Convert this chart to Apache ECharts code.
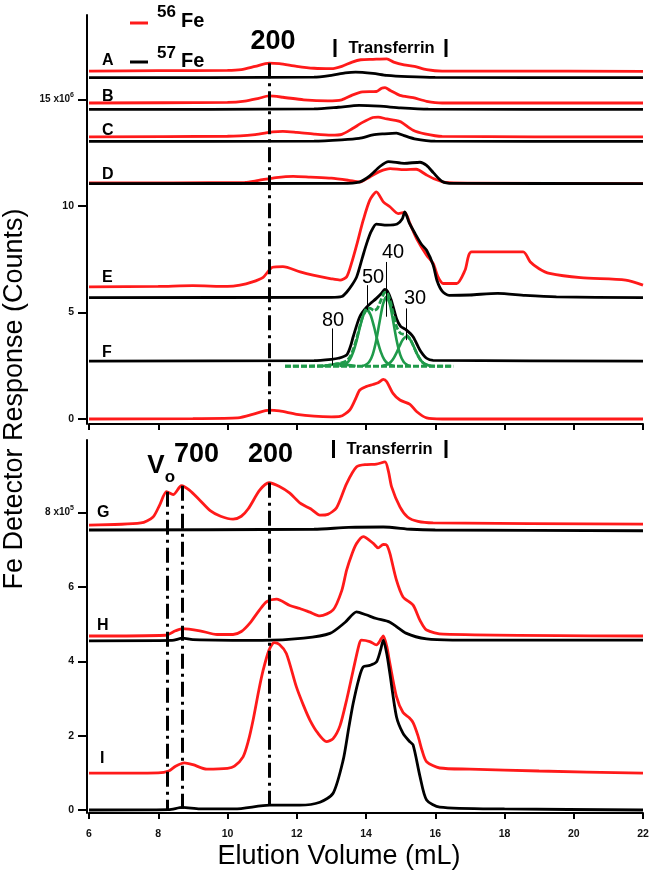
<!DOCTYPE html>
<html><head><meta charset="utf-8">
<script src="https://cdn.jsdelivr.net/npm/echarts@6.0.0/dist/echarts.min.js"></script>
<style>html,body{margin:0;padding:0;background:#fff}#c{width:653px;height:876px}</style>
</head><body><div id="c"></div>
<script>
// ---------- DATA (elution volume mL, response) ----------
// Top panel (x10^6 counts)
const A56 = [[6,16.33],[8,16.35],[10,16.36],[10.4,16.40],[10.8,16.55],[11.2,16.70],[11.5,16.68],[12,16.55],[12.5,16.46],[13,16.44],[13.3,16.55],[13.6,16.75],[13.85,16.86],[14.2,16.88],[14.6,16.90],[14.8,16.75],[15.1,16.62],[15.4,16.55],[15.75,16.40],[16.2,16.33],[18,16.33],[22,16.31]];
const A57 = [[6,16.02],[12.5,16.04],[13.0,16.13],[13.4,16.24],[13.7,16.28],[14.2,16.22],[14.6,16.13],[15.2,16.07],[16,16.03],[22,16.02]];
const B56 = [[6,14.83],[10,14.86],[10.5,14.92],[10.9,15.05],[11.2,15.16],[11.6,15.10],[12.2,14.98],[12.9,14.93],[13.3,14.98],[13.6,15.20],[13.9,15.35],[14.3,15.37],[14.45,15.52],[14.55,15.55],[14.7,15.42],[14.98,15.19],[15.36,15.08],[15.75,14.91],[16.2,14.83],[22,14.83]];
const B57 = [[6,14.53],[12.5,14.55],[13.2,14.63],[13.8,14.72],[14.4,14.68],[15,14.60],[15.8,14.54],[22,14.53]];
const C56 = [[6,13.24],[10,13.27],[10.8,13.35],[11.3,13.47],[11.6,13.50],[12.0,13.45],[12.5,13.37],[13.0,13.32],[13.3,13.36],[13.6,13.62],[13.9,13.92],[14.2,14.15],[14.35,14.17],[14.6,14.08],[14.85,14.02],[15.0,13.95],[15.36,13.55],[15.7,13.38],[16.2,13.26],[22,13.24]];
const C57 = [[6,13.03],[12.5,13.04],[13.3,13.10],[13.8,13.17],[14.2,13.33],[14.5,13.38],[14.88,13.42],[15.1,13.30],[15.4,13.15],[16,13.04],[22,13.03]];
const D56 = [[6,11.08],[10.5,11.10],[10.9,11.20],[11.4,11.33],[11.9,11.39],[12.4,11.35],[13.0,11.30],[13.5,11.20],[13.82,11.12],[14.1,11.35],[14.4,11.62],[14.7,11.75],[15.1,11.70],[15.45,11.72],[15.75,11.45],[16.0,11.25],[16.3,11.10],[17,11.07],[22,11.05]];
const D57 = [[6,11.05],[13.3,11.06],[13.8,11.12],[14.1,11.40],[14.4,11.85],[14.65,12.08],[15.1,12.00],[15.56,12.05],[15.75,11.90],[15.95,11.55],[16.2,11.15],[16.5,11.06],[22,11.05]];
const E56 = [[6,6.20],[8,6.22],[9,6.26],[10,6.22],[10.36,6.28],[10.7,6.42],[11.03,6.65],[11.3,7.12],[11.6,7.15],[12.1,6.90],[12.47,6.75],[13.0,6.58],[13.25,6.52],[13.44,6.67],[13.58,7.30],[13.73,8.16],[13.92,9.33],[14.11,10.27],[14.3,10.66],[14.5,10.19],[14.69,9.96],[14.93,9.64],[15.12,9.69],[15.27,9.17],[15.46,8.47],[15.75,7.69],[15.94,7.30],[16.08,6.67],[16.23,6.36],[16.62,6.36],[16.86,6.98],[17.05,7.84],[18.54,7.84],[18.74,7.38],[19.0,7.05],[19.3,6.83],[20.2,6.63],[21.5,6.52],[22,6.28]];
const E57 = [[6,5.70],[13.0,5.71],[13.3,5.75],[13.44,5.95],[13.6,6.30],[13.73,6.67],[13.9,7.60],[14.02,8.24],[14.15,8.80],[14.3,9.15],[14.6,9.10],[14.9,9.15],[15.05,9.40],[15.12,9.72],[15.25,9.20],[15.4,8.75],[15.6,8.20],[15.75,7.92],[15.94,7.22],[16.05,6.50],[16.2,6.00],[16.4,5.80],[17,5.82],[17.8,5.90],[18.6,5.80],[19.5,5.73],[22,5.70]];
const F57 = [[6,2.72],[12.5,2.74],[13.0,2.80],[13.2,2.85],[13.44,3.00],[13.55,3.40],[13.63,3.86],[13.82,4.80],[14.03,5.27],[14.3,5.66],[14.45,5.90],[14.54,6.08],[14.62,6.00],[14.73,5.58],[14.88,4.72],[15.0,4.35],[15.17,4.17],[15.36,3.86],[15.56,3.23],[15.75,2.85],[15.94,2.75],[22,2.72]];
const F56 = [[6,0.0],[9,0.02],[10.3,0.05],[10.8,0.25],[11.2,0.42],[11.5,0.38],[12.0,0.22],[12.5,0.13],[13.0,0.10],[13.25,0.12],[13.53,0.42],[13.7,0.95],[13.82,1.36],[14.0,1.52],[14.2,1.62],[14.35,1.70],[14.5,1.86],[14.6,1.75],[14.78,1.20],[14.98,0.89],[15.27,0.69],[15.46,0.35],[15.75,0.05],[16.2,0.0],[22,0.0]];
// Peak fit components for F (green)
const fitBase = [[11.66,2.48],[16.52,2.48]];
const fit80 = [[12.75,2.49],[13.0,2.54],[13.2,2.60],[13.45,2.54],[13.7,2.49]];
const fit50 = [[13.23,2.49],[13.33,2.52],[13.43,2.60],[13.53,2.78],[13.63,3.14],[13.73,3.68],[13.83,4.34],[13.93,4.89],[14.03,5.11],[14.13,4.89],[14.23,4.34],[14.33,3.68],[14.43,3.14],[14.53,2.78],[14.63,2.60],[14.73,2.52],[14.83,2.49]];
const fit40 = [[13.89,2.49],[13.99,2.54],[14.09,2.67],[14.19,3.01],[14.29,3.65],[14.39,4.54],[14.49,5.38],[14.59,5.73],[14.69,5.38],[14.79,4.54],[14.89,3.65],[14.99,3.01],[15.09,2.67],[15.19,2.54],[15.29,2.49]];
const fit30 = [[14.47,2.49],[14.57,2.53],[14.67,2.61],[14.77,2.78],[14.87,3.07],[14.97,3.43],[15.07,3.74],[15.17,3.86],[15.27,3.74],[15.37,3.43],[15.47,3.07],[15.57,2.78],[15.67,2.61],[15.77,2.53],[15.87,2.49]];
const fitSum = [[11.66,2.48],[12.8,2.50],[13.2,2.60],[13.43,2.72],[13.53,2.90],[13.63,3.26],[13.73,3.78],[13.83,4.41],[13.93,4.91],[14.03,5.20],[14.13,5.19],[14.23,5.09],[14.33,5.19],[14.43,5.57],[14.53,5.93],[14.59,5.96],[14.69,5.60],[14.79,4.91],[14.89,4.31],[14.99,4.03],[15.07,3.98],[15.17,3.93],[15.27,3.76],[15.37,3.43],[15.47,3.07],[15.57,2.78],[15.67,2.61],[15.87,2.49],[16.52,2.48]];
// Bottom panel (x10^5 counts)
const G56 = [[6,7.66],[7.5,7.72],[7.85,7.88],[8.04,8.20],[8.24,8.56],[8.43,8.48],[8.67,8.72],[8.9,8.60],[9.2,8.33],[9.5,8.05],[9.8,7.90],[10.16,7.82],[10.4,7.90],[10.6,8.10],[10.93,8.60],[11.2,8.80],[11.5,8.70],[11.8,8.52],[12.1,8.25],[12.4,8.10],[12.67,7.93],[12.9,7.95],[13.15,8.13],[13.44,8.78],[13.73,9.23],[14.02,9.29],[14.3,9.30],[14.55,9.36],[14.65,9.10],[14.74,8.69],[14.98,8.15],[15.2,7.88],[15.5,7.76],[15.94,7.72],[22,7.69]];
const G57 = [[6,7.53],[12.5,7.55],[13.5,7.60],[14.5,7.61],[15.3,7.55],[16,7.53],[22,7.51]];
const H56 = [[6,4.68],[8.2,4.70],[8.5,4.82],[8.7,4.88],[9.2,4.82],[9.7,4.72],[10.16,4.72],[10.4,4.80],[10.64,5.02],[10.9,5.35],[11.13,5.60],[11.42,5.67],[11.8,5.50],[12.09,5.42],[12.38,5.32],[12.67,5.22],[13.05,5.38],[13.3,5.90],[13.44,6.45],[13.6,6.90],[13.73,7.17],[13.92,7.35],[14.21,7.17],[14.35,7.05],[14.5,7.14],[14.6,7.12],[14.69,6.90],[14.88,6.18],[15.07,5.73],[15.36,5.51],[15.56,5.10],[15.75,4.84],[16.23,4.73],[22,4.68]];
const H57 = [[6,4.55],[8.4,4.56],[8.7,4.62],[9.0,4.58],[11,4.56],[12.2,4.62],[12.96,4.75],[13.4,5.05],[13.73,5.33],[14.0,5.25],[14.3,5.15],[14.69,5.05],[15.17,4.75],[15.75,4.60],[16.5,4.57],[22,4.57]];
const I56 = [[6,0.99],[8.0,1.0],[8.3,1.05],[8.5,1.18],[8.75,1.27],[9.0,1.22],[9.4,1.10],[10.0,1.12],[10.2,1.18],[10.45,1.43],[10.6,1.85],[10.74,2.42],[10.9,3.20],[11.03,3.76],[11.2,4.30],[11.35,4.50],[11.5,4.45],[11.7,4.21],[11.99,3.31],[12.2,2.80],[12.38,2.42],[12.6,2.08],[12.86,1.84],[13.05,1.92],[13.25,2.27],[13.45,3.0],[13.63,3.76],[13.8,4.45],[13.87,4.57],[14.11,4.53],[14.3,4.44],[14.45,4.62],[14.5,4.68],[14.6,4.40],[14.69,3.94],[14.88,3.05],[15.07,2.62],[15.25,2.48],[15.36,2.35],[15.5,2.0],[15.62,1.60],[15.75,1.30],[16.13,1.13],[17,1.10],[19,1.05],[22,0.99]];
const I57 = [[6,0.0],[8.3,0.01],[8.7,0.07],[9.2,0.03],[10.2,0.03],[11.22,0.13],[12.09,0.13],[12.67,0.21],[13.05,0.45],[13.34,1.34],[13.5,2.2],[13.63,2.87],[13.8,3.55],[13.92,3.85],[14.11,3.89],[14.3,3.98],[14.42,4.3],[14.5,4.57],[14.6,4.2],[14.69,3.67],[14.88,2.51],[15.07,2.06],[15.25,1.85],[15.36,1.75],[15.56,0.90],[15.75,0.27],[16.13,0.08],[18,0.03],[22,0.0]];
// Marker positions (mL)
const markerTop = [[11.2,16.7]];               // "200"
const markerBot = [[8.27,8.56],[8.7,8.72],[11.2,8.80]]; // Vo, 700, 200
const fitLabelLines = [[13.03,4.25,2.53],[14.04,6.28,5.11],[14.59,7.37,4.80],[15.17,5.19,3.70]];
const topYTicks = [0,5,10,15];
const botYTicks = [0,2,4,6,8];

// ---------- CHART ----------
const RED = '#ff1a1a', BLK = '#000', GRN = '#1f9a4a';
const FONT = "'Liberation Sans', Arial, sans-serif";
function ln(data, color, gi, extra) {
  return Object.assign({type:'line', data, xAxisIndex:gi, yAxisIndex:gi, symbol:'none', smooth:0.25,
    lineStyle:{color, width:2.8}, itemStyle:{color}, animation:false, silent:true}, extra||{});
}
const dashDot = {color:'#000', width:3, type:[15,5,3,5]};
const series = [
  ln(A56,RED,0), ln(A57,BLK,0), ln(B56,RED,0), ln(B57,BLK,0), ln(C56,RED,0), ln(C57,BLK,0),
  ln(D56,RED,0), ln(D57,BLK,0), ln(E56,RED,0), ln(E57,BLK,0), ln(F56,RED,0), ln(F57,BLK,0),
  ln(fitBase,GRN,0,{smooth:false, lineStyle:{color:GRN,width:3,type:[6,2]}, z:3,
     markLine:{silent:true, symbol:['none','none'], label:{show:false}, animation:false,
       lineStyle:{color:'#000', width:1, type:'solid'},
       data: fitLabelLines.map(d=>[{coord:[d[0],d[1]]},{coord:[d[0],d[2]]}])}}),
  ln(fit80,GRN,0,{z:3, lineStyle:{color:GRN,width:2.6}}),
  ln(fit50,GRN,0,{z:3, lineStyle:{color:GRN,width:2.6}}),
  ln(fit40,GRN,0,{z:3, lineStyle:{color:GRN,width:2.6}}),
  ln(fit30,GRN,0,{z:3, lineStyle:{color:GRN,width:2.6}}),
  ln(fitSum,GRN,0,{z:3, lineStyle:{color:GRN,width:2.8,type:[6,2]}}),
  ln([[6,null]],BLK,0,{z:5, markLine:{silent:true, symbol:['none','none'], label:{show:false}, animation:false,
     lineStyle:dashDot, data: markerTop.map(d=>[{coord:[d[0],d[1]]},{coord:[d[0],0]}])}}),
  ln(G56,RED,1), ln(G57,BLK,1), ln(H56,RED,1), ln(H57,BLK,1), ln(I56,RED,1), ln(I57,BLK,1),
  ln([[6,null]],BLK,1,{z:5, markLine:{silent:true, symbol:['none','none'], label:{show:false}, animation:false,
     lineStyle:dashDot, data: markerBot.map(d=>[{coord:[d[0],d[1]]},{coord:[d[0],0]}])}})
];
const axLine = {show:true, onZero:false, lineStyle:{color:'#000', width:2}};
function xAx(gi, showLabel) {
  return {type:'value', gridIndex:gi, min:6, max:22, interval:2, axisLine:axLine,
    axisTick:{show:true, inside:false, length:6, lineStyle:{color:'#000', width:2}},
    axisLabel:{show:showLabel, margin:16, fontSize:10.5, fontWeight:'bold', color:'#111', fontFamily:FONT},
    splitLine:{show:false}};
}
function yAx(gi, min, max, ticks, bigTick, expo) {
  return {type:'value', gridIndex:gi, min, max, offset:2, axisLine:axLine,
    axisTick:{show:true, length:9, customValues:ticks, lineStyle:{color:'#000', width:2}},
    axisLabel:{show:true, customValues:ticks, margin:13, fontSize:10.5, fontWeight:'bold', color:'#111', fontFamily:FONT,
      formatter:v=> v===bigTick ? '{a|'+v+' x10}{s|'+expo+'}' : String(v),
      rich:{a:{fontSize:10, fontWeight:'bold', color:'#111', fontFamily:FONT, lineHeight:16},
            s:{fontSize:7, fontWeight:'bold', color:'#111', fontFamily:FONT, verticalAlign:'top', lineHeight:10}}},
    splitLine:{show:false}};
}
function txt(x, y, text, font, align) {
  return {type:'text', x, y, silent:true, style:{text, font, fill:'#000', align:align||'center', verticalAlign:'middle'}};
}
const B16 = "bold 16px " + FONT;
const graphic = [
  // legend
  {type:'line', shape:{x1:130,y1:23,x2:148,y2:23}, style:{stroke:RED, lineWidth:3}},
  {type:'line', shape:{x1:130,y1:62,x2:148,y2:62}, style:{stroke:BLK, lineWidth:3}},
  txt(157,12,'56',"bold 17px "+FONT,'left'), txt(181,21,'Fe',"bold 20px "+FONT,'left'),
  txt(157,53,'57',"bold 17px "+FONT,'left'), txt(181,61,'Fe',"bold 20px "+FONT,'left'),
  // trace labels
  txt(102,61,'A',B16,'left'), txt(102,97,'B',B16,'left'), txt(102,130.5,'C',B16,'left'), txt(102,175,'D',B16,'left'),
  txt(102,278,'E',B16,'left'), txt(102,353,'F',B16,'left'), txt(97,512.5,'G',B16,'left'), txt(97,626,'H',B16,'left'),
  txt(100,759,'I',B16,'left'),
  // size markers
  txt(273,42,'200',"bold 27px "+FONT),
  txt(270.5,455,'200',"bold 27px "+FONT), txt(196.5,455,'700',"bold 27px "+FONT),
  txt(156,466,'V',"bold 26px "+FONT), txt(170,477,'o',"bold 17px "+FONT),
  // transferrin
  {type:'rect', shape:{x:333.5,y:39,width:3,height:18}, style:{fill:'#000'}},
  {type:'rect', shape:{x:444.5,y:39,width:3,height:18}, style:{fill:'#000'}},
  txt(391.5,48.5,'Transferrin',"bold 16.5px "+FONT),
  {type:'rect', shape:{x:332,y:440,width:3,height:18}, style:{fill:'#000'}},
  {type:'rect', shape:{x:444.5,y:440,width:3,height:18}, style:{fill:'#000'}},
  txt(389.5,449.5,'Transferrin',"bold 16.5px "+FONT),
  // fit labels
  txt(333,320,'80',"20px "+FONT), txt(373,277,'50',"20px "+FONT),
  txt(393,252,'40',"20px "+FONT), txt(415,298,'30',"20px "+FONT),
  // axis titles
  txt(339,857,'Elution Volume (mL)',"27px "+FONT),
  {type:'text', x:15, y:399, rotation:Math.PI/2, silent:true,
   style:{text:'Fe Detector Response (Counts)', font:"27px "+FONT, fill:'#000', align:'center', verticalAlign:'middle'}}
];
const chart = echarts.init(document.getElementById('c'), null, {renderer:'canvas'});
chart.setOption({
  animation:false, backgroundColor:'#fff',
  grid:[{left:89, right:10, top:15, height:409}, {left:89, right:10, top:440, height:373}],
  xAxis:[xAx(0,false), xAx(1,true)],
  yAxis:[yAx(0,-0.235,18.96,topYTicks,15,'6'), yAx(1,-0.08,9.95,botYTicks,8,'5')],
  series, graphic
});
</script></body></html>
